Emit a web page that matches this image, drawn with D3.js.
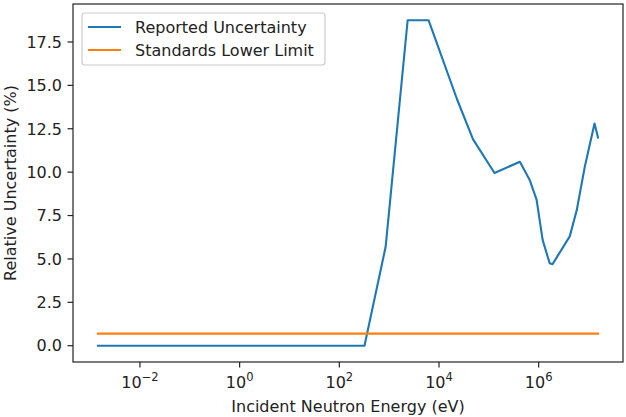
<!DOCTYPE html>
<html>
<head>
<meta charset="utf-8">
<script src="https://cdn.jsdelivr.net/npm/d3@7"></script>
<style>
  html, body { margin: 0; padding: 0; background: #fff; }
  svg { display: block; font-family: "DejaVu Sans", sans-serif; }
</style>
</head>
<body>
<svg id="chart" width="626" height="417"></svg>
<script>
// Reported relative uncertainty versus incident neutron energy (eV)
const reportedEnergy = [1.44e-3, 320, 850, 2350, 6200, 2.3e4, 4.8e4, 1.3e5, 4.2e5, 6.6e5,
                        9.1e5, 1.2e6, 1.66e6, 1.9e6, 4.2e6, 5.8e6, 8.4e6, 1.32e7, 1.55e7];
const reportedUnc    = [0, 0, 5.7, 18.75, 18.75, 14.2, 11.9, 9.95, 10.6, 9.55,
                        8.4, 6.1, 4.75, 4.7, 6.3, 7.8, 10.3, 12.8, 12.0];

// Standards lower limit, constant over the whole energy range
const standardsEnergy = [1.44e-3, 1.55e7];
const standardsUnc    = [0.7, 0.7];

const yTicks = [0, 2.5, 5, 7.5, 10, 12.5, 15, 17.5];
const xTickExponents = [-2, 0, 2, 4, 6];
const seriesNames = ["Reported Uncertainty", "Standards Lower Limit"];
const seriesColors = ["#1f77b4", "#ff7f0e"];

const plot = { left: 73, right: 623, top: 4, bottom: 362 };
const svg = d3.select("#chart");

// log-x domain padded by 5% of the data span on each side
const lmin = Math.log10(d3.min(reportedEnergy.concat(standardsEnergy)));
const lmax = Math.log10(d3.max(reportedEnergy.concat(standardsEnergy)));
const lpad = 0.05 * (lmax - lmin);
const x = d3.scaleLog()
  .domain([Math.pow(10, lmin - lpad), Math.pow(10, lmax + lpad)])
  .range([plot.left, plot.right]);

const ymin = Math.min(d3.min(reportedUnc), d3.min(standardsUnc));
const ymax = Math.max(d3.max(reportedUnc), d3.max(standardsUnc));
const ypad = 0.05 * (ymax - ymin);
const y = d3.scaleLinear()
  .domain([ymin - ypad, ymax + ypad])
  .range([plot.bottom, plot.top]);

const line = d3.line().x(d => x(d[0])).y(d => y(d[1]));

// series
const series = [
  d3.zip(reportedEnergy, reportedUnc),
  d3.zip(standardsEnergy, standardsUnc)
];
series.forEach((s, i) => {
  svg.append("path")
    .datum(s)
    .attr("d", line)
    .attr("fill", "none")
    .attr("stroke", seriesColors[i])
    .attr("stroke-width", 2.1)
    .attr("stroke-linejoin", "round")
    .attr("stroke-linecap", "square");
});

// frame
svg.append("rect")
  .attr("x", plot.left).attr("y", plot.top)
  .attr("width", plot.right - plot.left).attr("height", plot.bottom - plot.top)
  .attr("fill", "none").attr("stroke", "#222").attr("stroke-width", 1.2);

const tickLen = 5.5;
const textColor = "#222";

// y axis
const yAxis = svg.append("g");
yTicks.forEach(t => {
  yAxis.append("line")
    .attr("x1", plot.left - tickLen).attr("x2", plot.left)
    .attr("y1", y(t)).attr("y2", y(t))
    .attr("stroke", "#222").attr("stroke-width", 1.2);
  yAxis.append("text")
    .attr("x", plot.left - tickLen - 5.5)
    .attr("y", y(t))
    .attr("dy", "0.36em")
    .attr("text-anchor", "end")
    .attr("font-size", 16)
    .attr("fill", textColor)
    .text(t.toFixed(1));
});

// x axis
const xAxis = svg.append("g");
xTickExponents.forEach(e => {
  const px = x(Math.pow(10, e));
  xAxis.append("line")
    .attr("x1", px).attr("x2", px)
    .attr("y1", plot.bottom).attr("y2", plot.bottom + tickLen)
    .attr("stroke", "#222").attr("stroke-width", 1.2);
  const t = xAxis.append("text")
    .attr("x", px)
    .attr("y", 388)
    .attr("text-anchor", "middle")
    .attr("font-size", 16)
    .attr("fill", textColor);
  t.append("tspan").text("10");
  t.append("tspan")
    .attr("font-size", 11.5)
    .attr("dy", -7)
    .text(e < 0 ? "\u2212" + (-e) : String(e));
});

// axis titles
svg.append("text")
  .attr("x", (plot.left + plot.right) / 2)
  .attr("y", 412)
  .attr("text-anchor", "middle")
  .attr("font-size", 16)
  .attr("fill", textColor)
  .text("Incident Neutron Energy (eV)");

svg.append("text")
  .attr("transform", `translate(16, ${(plot.top + plot.bottom) / 2}) rotate(-90)`)
  .attr("text-anchor", "middle")
  .attr("font-size", 16)
  .attr("fill", textColor)
  .text("Relative Uncertainty (%)");

// legend
const legend = svg.append("g");
legend.append("rect")
  .attr("x", 82).attr("y", 13)
  .attr("width", 243).attr("height", 52)
  .attr("rx", 3)
  .attr("fill", "#fff").attr("fill-opacity", 0.8)
  .attr("stroke", "#ccc").attr("stroke-width", 1.2);
seriesNames.forEach((name, i) => {
  const cy = 27 + i * 23;
  legend.append("line")
    .attr("x1", 88).attr("x2", 121)
    .attr("y1", cy).attr("y2", cy)
    .attr("stroke", seriesColors[i]).attr("stroke-width", 2.1);
  legend.append("text")
    .attr("x", 135).attr("y", cy)
    .attr("dy", "0.36em")
    .attr("font-size", 16)
    .attr("fill", textColor)
    .text(name);
});
</script>
</body>
</html>
